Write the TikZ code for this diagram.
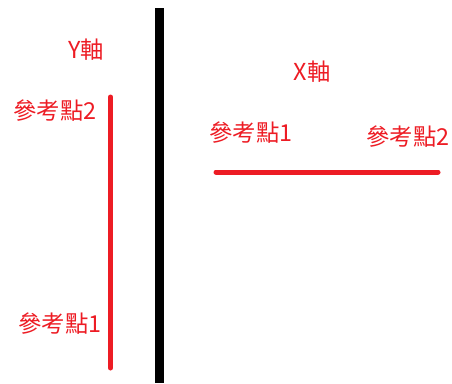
\documentclass[tikz,border=0pt]{standalone}
\usepackage{fontspec}
\newfontfamily\cjk{Noto Sans CJK TC}
\definecolor{paintred}{HTML}{ED1C24}
\begin{document}
\begin{tikzpicture}[x=0.75pt,y=-0.75pt,
  lbl/.style={text=paintred,font=\cjk\fontsize{17.5pt}{20pt}\selectfont,inner sep=0pt},
  redline/.style={draw=paintred,line width=3.75pt,line cap=round}]
\useasboundingbox (0,0) rectangle (452,383);
\draw[line width=6.75pt,black] (159,8) -- (159,383);
\coordinate (ytop) at (110.5,97);
\coordinate (ybot) at (110.5,368);
\draw[redline] (ytop) -- (ybot);
\coordinate (xl) at (216,172);
\coordinate (xr) at (438,172);
\draw[redline] (xl) -- (xr);
\node[lbl] (yaxis) at (86,50) {Y軸};
\node[lbl] (yref2) at (55,111) {參考點2};
\node[lbl] (yref1) at (60,324) {參考點1};
\node[lbl] (xaxis) at (312,72) {X軸};
\node[lbl] (xref1) at (251,133) {參考點1};
\node[lbl] (xref2) at (408,137) {參考點2};
\end{tikzpicture}
\end{document}
